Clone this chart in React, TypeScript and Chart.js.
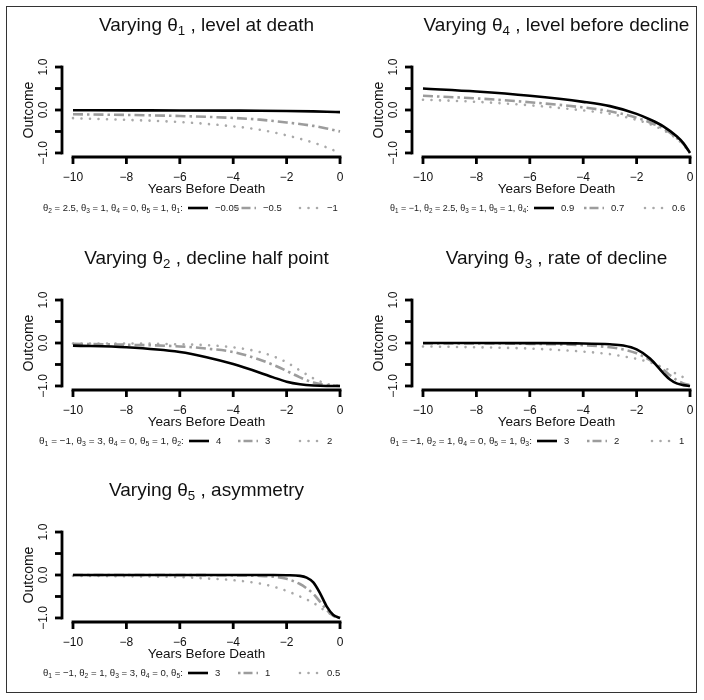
import React, { useEffect, useRef } from 'react';
import { Chart, registerables } from 'chart.js';

Chart.register(...registerables);

// ---------- axis ticks ----------
const X_TICKS = [-10, -8, -6, -4, -2, 0];
const X_TICK_LABELS = ['−10', '−8', '−6', '−4', '−2', '0'];
const Y_TICKS = [-1, -0.5, 0, 0.5, 1];
const Y_TICK_LABELS = ['−1.0', '', '0.0', '', '1.0'];
const X_TITLE = 'Years Before Death';
const Y_TITLE = 'Outcome';

// ---------- panel 1 : varying theta1 ----------
const P1_TITLE = 'Varying θ_1 , level at death';
const P1_PREFIX = 'θ_2 = 2.5, θ_3 = 1, θ_4 = 0, θ_5 = 1, θ_1:';
const P1_LABELS = ['−0.05', '−0.5', '−1'];
const P1_X = [-10, -8, -6, -4, -3, -2, -1, -0.5, 0];
const P1_A = [-0.005, -0.008, -0.01, -0.015, -0.018, -0.024, -0.033, -0.04, -0.05];
const P1_B = [-0.1, -0.115, -0.14, -0.185, -0.225, -0.29, -0.37, -0.43, -0.5];
const P1_C = [-0.19, -0.23, -0.28, -0.38, -0.46, -0.59, -0.76, -0.87, -1.0];

// ---------- panel 2 : varying theta4 ----------
const P2_TITLE = 'Varying θ_4 , level before decline';
const P2_PREFIX = 'θ_1 = −1, θ_2 = 2.5, θ_3 = 1, θ_5 = 1, θ_4:';
const P2_LABELS = ['0.9', '0.7', '0.6'];
const P2_X = [-10, -8, -6, -4, -3, -2, -1.5, -1, -0.5, -0.25, 0];
const P2_A = [0.5, 0.43, 0.33, 0.19, 0.09, -0.09, -0.22, -0.38, -0.61, -0.77, -1.0];
const P2_B = [0.33, 0.27, 0.18, 0.06, -0.03, -0.18, -0.29, -0.43, -0.65, -0.79, -1.0];
const P2_C = [0.24, 0.19, 0.11, -0.01, -0.09, -0.23, -0.33, -0.47, -0.67, -0.81, -1.0];

// ---------- panel 3 : varying theta2 ----------
const P3_TITLE = 'Varying θ_2 , decline half point';
const P3_PREFIX = 'θ_1 = −1, θ_3 = 3, θ_4 = 0, θ_5 = 1, θ_2:';
const P3_LABELS = ['4', '3', '2'];
const P3_X = [-10, -8, -6, -5, -4, -3, -2.5, -2, -1.5, -1, -0.5, 0];
const P3_A = [-0.06, -0.1, -0.21, -0.33, -0.49, -0.69, -0.8, -0.9, -0.96, -0.99, -1.0, -1.0];
const P3_B = [-0.02, -0.04, -0.08, -0.13, -0.21, -0.39, -0.51, -0.65, -0.8, -0.92, -0.98, -1.0];
const P3_C = [-0.01, -0.01, -0.03, -0.05, -0.1, -0.21, -0.31, -0.45, -0.64, -0.82, -0.95, -1.0];

// ---------- panel 4 : varying theta3 ----------
const P4_TITLE = 'Varying θ_3 , rate of decline';
const P4_PREFIX = 'θ_1 = −1, θ_2 = 1, θ_4 = 0, θ_5 = 1, θ_3:';
const P4_LABELS = ['3', '2', '1'];
const P4_X = [-10, -8, -6, -4, -3, -2.5, -2, -1.5, -1, -0.75, -0.5, -0.25, 0];
const P4_A = [0.0, 0.0, -0.003, -0.01, -0.03, -0.06, -0.15, -0.36, -0.7, -0.85, -0.94, -0.98, -1.0];
const P4_B = [-0.01, -0.01, -0.02, -0.05, -0.1, -0.15, -0.24, -0.4, -0.62, -0.75, -0.86, -0.94, -0.98];
const P4_C = [-0.08, -0.1, -0.13, -0.2, -0.26, -0.31, -0.37, -0.45, -0.57, -0.64, -0.72, -0.8, -0.88];

// ---------- panel 5 : varying theta5 ----------
const P5_TITLE = 'Varying θ_5 , asymmetry';
const P5_PREFIX = 'θ_1 = −1, θ_2 = 1, θ_3 = 3, θ_4 = 0, θ_5:';
const P5_LABELS = ['3', '1', '0.5'];
const P5_X = [-10, -8, -6, -5, -4, -3, -2.5, -2, -1.5, -1.25, -1, -0.75, -0.5, -0.25, 0];
const P5_A = [0, 0, 0, 0, 0, 0, 0, -0.005, -0.02, -0.06, -0.17, -0.42, -0.73, -0.93, -1.0];
const P5_B = [0, 0, -0.002, -0.004, -0.008, -0.02, -0.04, -0.09, -0.21, -0.31, -0.44, -0.62, -0.81, -0.95, -1.0];
const P5_C = [-0.02, -0.03, -0.05, -0.08, -0.12, -0.2, -0.27, -0.37, -0.5, -0.57, -0.65, -0.75, -0.86, -0.94, -1.0];

// ---------- styles / layout ----------
const FONT = '"Liberation Sans", Arial, Helvetica, sans-serif';
const STYLES = [
  { color: '#000000', width: 2.6, dash: [] as number[], cap: 'butt' as CanvasLineCap },
  { color: '#9c9c9c', width: 2.6, dash: [10, 4, 2.5, 4], cap: 'butt' as CanvasLineCap },
  { color: '#a9a9a9', width: 2.6, dash: [0.01, 8.5], cap: 'round' as CanvasLineCap },
];
const COL_X = [0, 350];
const ROW_Y = [0, 233, 465];
const CANVAS_W = 352;
const CANVAS_H = 233;

const PANELS = [
  { title: P1_TITLE, prefix: P1_PREFIX, labels: P1_LABELS, x: P1_X, series: [P1_A, P1_B, P1_C], col: 0, row: 0, legendStart: 43, segX: [188, 236, 300] },
  { title: P2_TITLE, prefix: P2_PREFIX, labels: P2_LABELS, x: P2_X, series: [P2_A, P2_B, P2_C], col: 1, row: 0, legendStart: 40, segX: [184, 234, 295] },
  { title: P3_TITLE, prefix: P3_PREFIX, labels: P3_LABELS, x: P3_X, series: [P3_A, P3_B, P3_C], col: 0, row: 1, legendStart: 39, segX: [189, 238, 300] },
  { title: P4_TITLE, prefix: P4_PREFIX, labels: P4_LABELS, x: P4_X, series: [P4_A, P4_B, P4_C], col: 1, row: 1, legendStart: 40, segX: [187, 237, 302] },
  { title: P5_TITLE, prefix: P5_PREFIX, labels: P5_LABELS, x: P5_X, series: [P5_A, P5_B, P5_C], col: 0, row: 2, legendStart: 43, segX: [188, 238, 300] },
];

type Part = { s: string; sub: boolean };
function parseRich(text: string): Part[] {
  const bits = text.split(/_(\d)/);
  const out: Part[] = [];
  bits.forEach((b, i) => {
    if (b.length) out.push({ s: b, sub: i % 2 === 1 });
  });
  return out;
}
function richWidth(ctx: CanvasRenderingContext2D, parts: Part[], size: number) {
  let w = 0;
  for (const p of parts) {
    ctx.font = `${p.sub ? size * 0.7 : size}px ${FONT}`;
    w += ctx.measureText(p.s).width;
  }
  return w;
}
function drawRich(ctx: CanvasRenderingContext2D, parts: Part[], x: number, baseline: number, size: number) {
  let cx = x;
  ctx.textAlign = 'left';
  ctx.textBaseline = 'alphabetic';
  for (const p of parts) {
    const fs = p.sub ? size * 0.7 : size;
    ctx.font = `${fs}px ${FONT}`;
    ctx.fillText(p.s, cx, baseline + (p.sub ? size * 0.2 : 0));
    cx += ctx.measureText(p.s).width;
  }
}

function makeDecor(p: any) {
  return {
    id: 'decor',
    afterDraw(chart: any) {
      const ctx: CanvasRenderingContext2D = chart.ctx;
      const xs = chart.scales.x;
      const ys = chart.scales.y;
      const ca = chart.chartArea;
      ctx.save();
      ctx.strokeStyle = '#000';
      ctx.fillStyle = '#111';
      ctx.lineWidth = 2.8;
      ctx.lineCap = 'butt';
      ctx.setLineDash([]);

      // x axis
      const yb = ca.bottom + 0.6;
      const xa = xs.getPixelForValue(X_TICKS[0]);
      const xb = xs.getPixelForValue(X_TICKS[X_TICKS.length - 1]);
      ctx.beginPath();
      ctx.moveTo(xa - 1.4, yb);
      ctx.lineTo(xb + 1.4, yb);
      ctx.stroke();
      ctx.font = `12px ${FONT}`;
      ctx.textAlign = 'center';
      ctx.textBaseline = 'middle';
      X_TICKS.forEach((t, i) => {
        const px = xs.getPixelForValue(t);
        ctx.beginPath();
        ctx.moveTo(px, yb);
        ctx.lineTo(px, yb + 7);
        ctx.stroke();
        ctx.fillText(X_TICK_LABELS[i], px, ca.bottom + 21);
      });
      ctx.font = `13.5px ${FONT}`;
      ctx.fillText(X_TITLE, (ca.left + ca.right) / 2, ca.bottom + 33);

      // y axis
      const xl = ca.left - 0.3;
      const ya = ys.getPixelForValue(Y_TICKS[0]);
      const yz = ys.getPixelForValue(Y_TICKS[Y_TICKS.length - 1]);
      ctx.beginPath();
      ctx.moveTo(xl, ya + 1.4);
      ctx.lineTo(xl, yz - 1.4);
      ctx.stroke();
      Y_TICKS.forEach((t, i) => {
        const py = ys.getPixelForValue(t);
        ctx.beginPath();
        ctx.moveTo(xl, py);
        ctx.lineTo(xl - 7, py);
        ctx.stroke();
        if (Y_TICK_LABELS[i]) {
          ctx.save();
          ctx.translate(ca.left - 18.3, py);
          ctx.rotate(-Math.PI / 2);
          ctx.font = `12px ${FONT}`;
          ctx.textAlign = 'center';
          ctx.textBaseline = 'middle';
          ctx.fillText(Y_TICK_LABELS[i], 0, 0);
          ctx.restore();
        }
      });
      ctx.save();
      ctx.translate(ca.left - 33, (ca.top + ca.bottom) / 2);
      ctx.rotate(-Math.PI / 2);
      ctx.font = `14px ${FONT}`;
      ctx.textAlign = 'center';
      ctx.textBaseline = 'middle';
      ctx.fillText(Y_TITLE, 0, 0);
      ctx.restore();

      // title
      const tParts = parseRich(p.title);
      const tSize = 19;
      const tw = richWidth(ctx, tParts, tSize);
      ctx.fillStyle = '#111';
      drawRich(ctx, tParts, (ca.left + ca.right) / 2 - tw / 2, 31, tSize);

      // legend
      const lParts = parseRich(p.prefix);
      const avail = p.segX[0] - 5 - p.legendStart;
      let lSize = 9;
      const lw = richWidth(ctx, lParts, lSize);
      lSize = Math.min(10, lSize * avail / lw);
      ctx.fillStyle = '#222';
      drawRich(ctx, lParts, p.legendStart, 211.2, lSize);
      const ly = 208;
      p.labels.forEach((lab: string, i: number) => {
        const st = STYLES[i];
        const sx = p.segX[i];
        ctx.save();
        ctx.strokeStyle = st.color;
        ctx.lineWidth = st.width;
        ctx.lineCap = st.cap;
        ctx.setLineDash(i === 1 ? [2.5, 3, 9, 4] : st.dash);
        ctx.beginPath();
        ctx.moveTo(sx, ly);
        ctx.lineTo(sx + 20, ly);
        ctx.stroke();
        ctx.restore();
        ctx.font = `9.5px ${FONT}`;
        ctx.textAlign = 'left';
        ctx.textBaseline = 'middle';
        ctx.fillStyle = '#222';
        ctx.fillText(lab, sx + 27, ly);
      });
      ctx.restore();
    },
  };
}

function PanelChart({ p }: { p: any }) {
  const ref = useRef<HTMLCanvasElement>(null);
  useEffect(() => {
    const canvas = ref.current!;
    const chart = new Chart(canvas, {
      type: 'line',
      data: {
        datasets: p.series.map((s: number[], i: number) => ({
          data: s.map((v: number, j: number) => ({ x: p.x[j], y: v })),
          borderColor: STYLES[i].color,
          borderWidth: STYLES[i].width,
          borderDash: STYLES[i].dash,
          borderCapStyle: STYLES[i].cap,
          pointRadius: 0,
          fill: false,
          cubicInterpolationMode: 'monotone',
        })),
      },
      options: {
        responsive: false,
        maintainAspectRatio: false,
        animation: false,
        devicePixelRatio: 1,
        events: [],
        layout: { padding: { left: 62.3, right: CANVAS_W - 350.7, top: 63.6, bottom: CANVAS_H - 156.4 } },
        scales: {
          x: { type: 'linear', min: -10.4, max: 0.4, display: false },
          y: { type: 'linear', min: -1.08, max: 1.08, display: false },
        },
        plugins: { legend: { display: false }, tooltip: { enabled: false }, title: { display: false } },
      } as any,
      plugins: [makeDecor(p)],
    });
    return () => chart.destroy();
  }, [p]);
  return (
    <canvas
      ref={ref}
      width={CANVAS_W}
      height={CANVAS_H}
      style={{ position: 'absolute', left: COL_X[p.col], top: ROW_Y[p.row], width: CANVAS_W, height: CANVAS_H }}
    />
  );
}

export default function App() {
  return (
    <div style={{ position: 'absolute', left: 0, top: 0, width: 704, height: 700, background: '#fff' }}>
      <div
        style={{
          position: 'absolute',
          left: 6,
          top: 6,
          width: 691,
          height: 687,
          border: '1px solid #333',
          boxSizing: 'border-box',
        }}
      />
      {PANELS.map((p, i) => (
        <PanelChart key={i} p={p} />
      ))}
    </div>
  );
}
